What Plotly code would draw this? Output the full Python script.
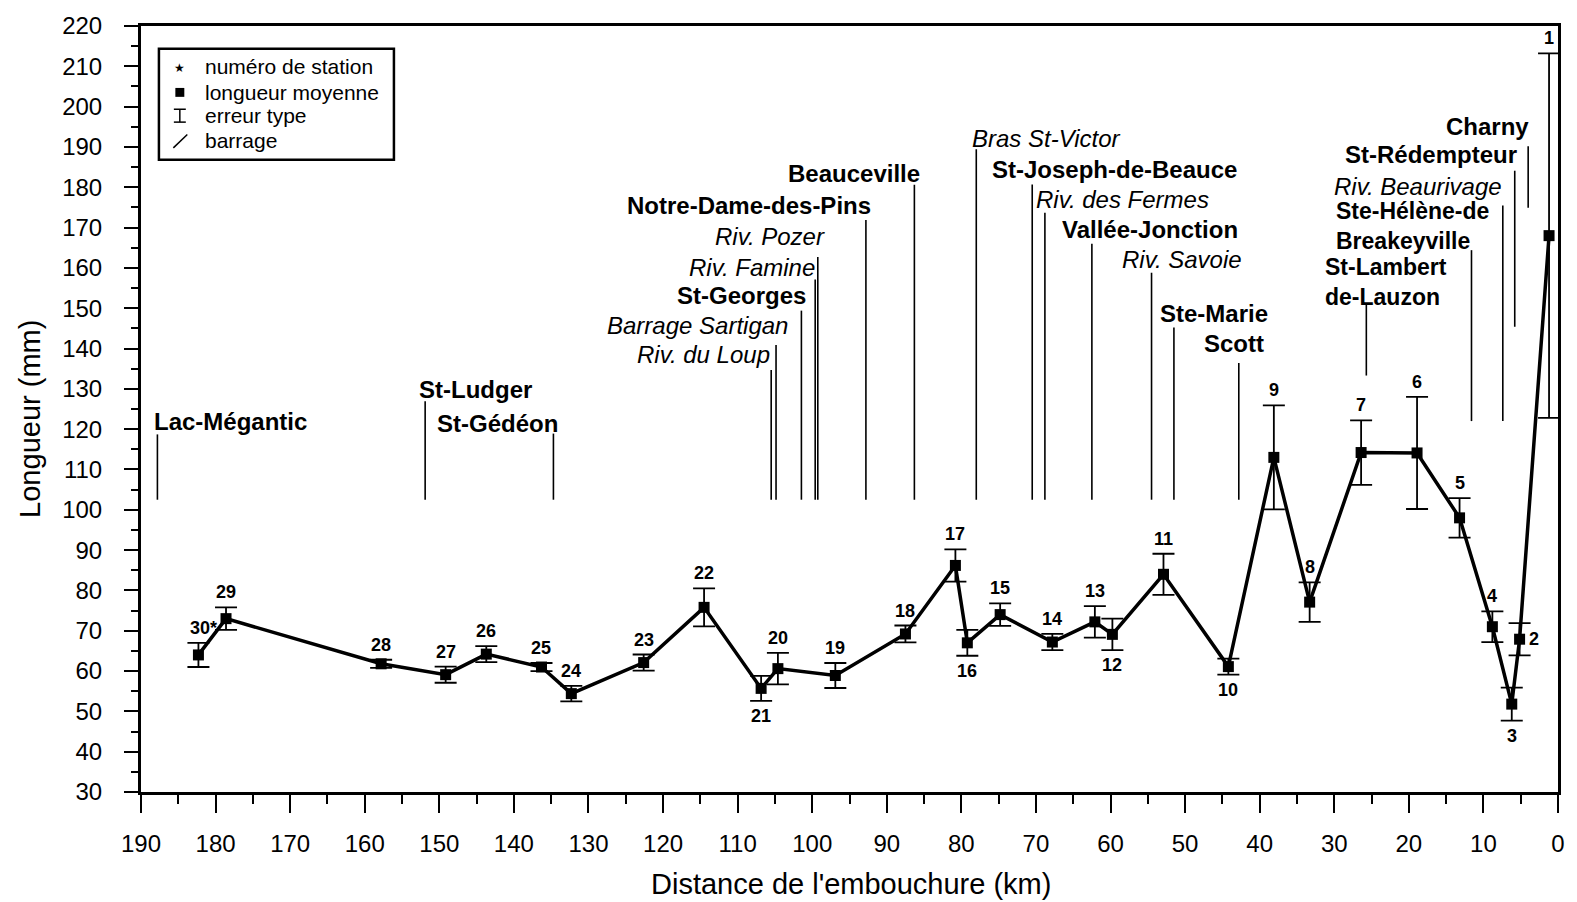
import plotly.graph_objects as go

# ---------------- data ----------------
station = [30, 29, 28, 27, 26, 25, 24, 23, 22, 21, 20, 19, 18, 17, 16,
           15, 14, 13, 12, 11, 10, 9, 8, 7, 6, 5, 4, 3, 2, 1]
distance_km = [182.3, 178.6, 157.8, 149.15, 143.7, 136.3, 132.3, 122.6, 114.5, 106.85,
               104.6, 96.9, 87.5, 80.8, 79.2, 74.8, 67.8, 62.1, 59.75, 52.9,
               44.2, 38.1, 33.3, 26.4, 18.9, 13.2, 8.8, 6.2, 5.15, 1.2]
length_mm = [64.0, 73.0, 61.8, 59.1, 64.2, 61.0, 54.4, 62.1, 75.8, 55.7,
             60.6, 58.9, 69.2, 86.2, 67.0, 74.0, 67.2, 72.2, 69.1, 84.0,
             61.1, 113.0, 77.1, 114.2, 114.1, 98.0, 71.0, 51.8, 67.9, 168.0]
std_err = [3.0, 2.8, 1.0, 2.0, 2.0, 1.0, 1.9, 2.0, 4.7, 3.1,
           3.9, 3.1, 2.1, 4.0, 3.2, 2.8, 2.0, 3.9, 3.9, 5.1,
           2.0, 12.9, 4.9, 8.0, 13.9, 4.9, 3.8, 4.1, 4.0, 45.2]
station_text = ["30*"] + [str(s) for s in station[1:]]
label_side = ["above", "above", "above", "above", "above", "above", "above", "above", "above", "below",
              "above", "above", "above", "above", "below", "above", "above", "above", "below", "above",
              "below", "above", "above", "above", "above", "above", "above", "below", "right", "above"]

# localities / tributaries / dams: vertical marker lines
site_names = ["Lac-Mégantic", "St-Ludger", "St-Gédéon", "Riv. du Loup", "Barrage Sartigan",
              "St-Georges", "Riv. Famine", "Riv. Pozer", "Notre-Dame-des-Pins", "Beauceville",
              "Bras St-Victor", "St-Joseph-de-Beauce", "Riv. des Fermes", "Vallée-Jonction",
              "Riv. Savoie", "Ste-Marie", "Scott", "St-Lambert-de-Lauzon",
              "Ste-Hélène-de-Breakeyville", "Riv. Beaurivage", "St-Rédempteur", "Charny"]
site_km = [187.8, 151.9, 134.7, 105.5, 104.85, 101.45, 99.6, 99.25, 92.8, 86.3,
           78.0, 70.5, 68.8, 62.5, 54.5, 51.5, 42.8, 25.7, 11.6, 7.4, 5.8, 4.0]
site_top = [118.7, 126.9, 118.9, 134.7, 140.9, 149.4, 157.1, 162.7, 171.9, 180.6,
            189.4, 180.7, 173.7, 166.0, 158.8, 145.2, 136.4, 151.0, 164.4, 175.5, 184.1, 190.2]
site_bottom = [102.5, 102.5, 102.5, 102.5, 102.5, 102.5, 102.5, 102.5, 102.5, 102.5,
               102.5, 102.5, 102.5, 102.5, 102.5, 102.5, 102.5, 133.3, 122.0, 122.0, 145.4, 174.9]

# text labels of the sites
site_label_text = ["Lac-Mégantic", "St-Ludger", "St-Gédéon", "Riv. du Loup", "Barrage Sartigan",
                   "St-Georges", "Riv. Famine", "Riv. Pozer", "Notre-Dame-des-Pins", "Beauceville",
                   "Bras St-Victor", "St-Joseph-de-Beauce", "Riv. des Fermes", "Vallée-Jonction",
                   "Riv. Savoie", "Ste-Marie", "Scott", "St-Lambert<br>de-Lauzon",
                   "Ste-Hélène-de<br>Breakeyville", "Riv. Beaurivage", "St-Rédempteur", "Charny"]
site_label_km = [188.57, 153.03, 133.88, 105.42, 102.92, 100.57, 99.37, 98.03, 91.79, 85.34,
                 78.87, 76.2, 70.2, 42.6, 42.1, 38.6, 39.2, 31.5,
                 30.1, 7.2, 5.2, 3.6]
site_label_val = [122.0, 129.8, 121.4, 138.4, 145.8, 153.2, 160.0, 167.8, 175.5, 183.3,
                  192.2, 184.4, 176.9, 169.5, 162.0, 148.6, 141.3, 156.5,
                  170.3, 180.3, 188.1, 195.1]
site_label_anchor = ["left", "left", "right", "right", "right", "right", "right", "right", "right", "right",
                     "left", "left", "left", "right", "right", "right", "right", "left",
                     "left", "right", "right", "right"]
site_label_style = ["b", "b", "b", "i", "i", "b", "i", "i", "b", "b",
                    "i", "b", "i", "b", "i", "b", "b", "b",
                    "b", "i", "b", "b"]

legend_items = ["numéro de station", "longueur moyenne", "erreur type", "barrage"]
x_ticks = list(range(0, 191, 10))
y_ticks = list(range(30, 221, 10))

# ---------------- figure ----------------
FONT = "Liberation Sans, Arial, Helvetica, sans-serif"
W, H = 1577, 902
ML, MR, MT, MB = 141, 13, 19, 110
PW, PH = W - ML - MR, H - MT - MB


def px(x):
    return (x - ML) / PW


def py(y):
    return (H - MB - y) / PH


fig = go.Figure()

# vertical marker lines
lx, ly = [], []
for k, t, b in zip(site_km, site_top, site_bottom):
    lx += [k, k, None]
    ly += [t, b, None]
fig.add_trace(go.Scatter(x=lx, y=ly, mode="lines", line=dict(color="black", width=1.6),
                         hoverinfo="skip", showlegend=False))

# main series
fig.add_trace(go.Scatter(
    x=distance_km, y=length_mm, mode="lines+markers",
    line=dict(color="black", width=3.5),
    marker=dict(symbol="square", size=11, color="black"),
    error_y=dict(type="data", array=std_err, visible=True, color="black",
                 thickness=1.8, width=11),
    text=station_text, showlegend=False))

ann = []
# station numbers
for k, v, e, t, side in zip(distance_km, length_mm, std_err, station_text, label_side):
    if side == "above":
        ann.append(dict(x=k, y=v + e, text=f"<b>{t}</b>", showarrow=False, xanchor="center",
                        yanchor="bottom", yshift=3, xshift=(5 if t == "30*" else 0),
                        font=dict(family=FONT, size=18, color="black")))
    elif side == "below":
        ann.append(dict(x=k, y=v - e, text=f"<b>{t}</b>", showarrow=False, xanchor="center",
                        yanchor="top", yshift=-3,
                        font=dict(family=FONT, size=18, color="black")))
    else:
        ann.append(dict(x=k, y=v, text=f"<b>{t}</b>", showarrow=False, xanchor="center",
                        yanchor="middle", xshift=14,
                        font=dict(family=FONT, size=18, color="black")))

# site labels
for t, k, v, a, s in zip(site_label_text, site_label_km, site_label_val, site_label_anchor, site_label_style):
    multi = "<br>" in t
    ann.append(dict(x=k, y=v, text=f"<{s}>{t}</{s}>", showarrow=False, xanchor=a, yanchor="middle",
                    align=a,
                    font=dict(family=FONT, size=(23 if multi else 24), color="black")))

# axis titles
ann.append(dict(xref="paper", yref="paper", x=px(854), y=py(885), text="Distance de l'embouchure (km)",
                showarrow=False, xanchor="center", yanchor="middle",
                font=dict(family=FONT, size=29, color="black")))
ann.append(dict(xref="paper", yref="paper", x=px(30), y=py(415), text="Longueur (mm)", textangle=-90,
                showarrow=False, xanchor="center", yanchor="middle",
                font=dict(family=FONT, size=29, color="black")))

# legend (drawn manually)
leg_y = [60, 86, 109.5, 135]
for t, yy in zip(legend_items, leg_y):
    ann.append(dict(xref="paper", yref="paper", x=px(203), y=py(yy), text=t, showarrow=False,
                    xanchor="left", yanchor="middle", font=dict(family=FONT, size=21, color="black")))
ann.append(dict(xref="paper", yref="paper", x=px(180), y=py(61), text="★", showarrow=False,
                xanchor="center", yanchor="middle", font=dict(family="DejaVu Sans", size=12, color="black")))

shapes = [
    dict(type="rect", xref="paper", yref="paper", x0=px(159), x1=px(395), y0=py(154), y1=py(42),
         line=dict(color="black", width=2.5), fillcolor="white", layer="below"),
    dict(type="rect", xref="paper", yref="paper", x0=px(175.5), x1=px(184.5), y0=py(90.5), y1=py(81.5),
         line=dict(color="black", width=0), fillcolor="black"),
    dict(type="line", xref="paper", yref="paper", x0=px(180), x1=px(180), y0=py(103), y1=py(116),
         line=dict(color="black", width=1.5)),
    dict(type="line", xref="paper", yref="paper", x0=px(174), x1=px(186), y0=py(103), y1=py(103),
         line=dict(color="black", width=1.5)),
    dict(type="line", xref="paper", yref="paper", x0=px(174), x1=px(186), y0=py(116), y1=py(116),
         line=dict(color="black", width=1.5)),
    dict(type="line", xref="paper", yref="paper", x0=px(173.5), x1=px(187.5), y0=py(142), y1=py(128.5),
         line=dict(color="black", width=1.5)),
]

fig.update_layout(
    width=W, height=H, autosize=False,
    margin=dict(l=ML, r=MR, t=MT, b=MB, pad=0),
    paper_bgcolor="white", plot_bgcolor="white",
    showlegend=False,
    annotations=ann, shapes=shapes,
    font=dict(family=FONT, color="black"),
)
fig.update_xaxes(
    range=[190, 0], autorange=False, tickmode="array", tickvals=x_ticks,
    ticktext=[str(v) for v in x_ticks],
    showgrid=False, zeroline=False, showline=True, linewidth=3, linecolor="black", mirror=True,
    ticks="outside", ticklen=18, tickwidth=2, tickcolor="black",
    minor=dict(dtick=5, tick0=0, ticks="outside", ticklen=9, tickwidth=2, tickcolor="black"),
    tickfont=dict(family=FONT, size=24, color="black"), ticklabelstandoff=10,
)
fig.update_yaxes(
    range=[30, 220], autorange=False, tickmode="array", tickvals=y_ticks,
    ticktext=[str(v) for v in y_ticks],
    showgrid=False, zeroline=False, showline=True, linewidth=3, linecolor="black", mirror=True,
    ticks="outside", ticklen=14, tickwidth=2, tickcolor="black",
    minor=dict(dtick=5, tick0=0, ticks="outside", ticklen=7, tickwidth=2, tickcolor="black"),
    tickfont=dict(family=FONT, size=24, color="black"), ticklabelstandoff=17,
)

fig.write_html("out.html")
